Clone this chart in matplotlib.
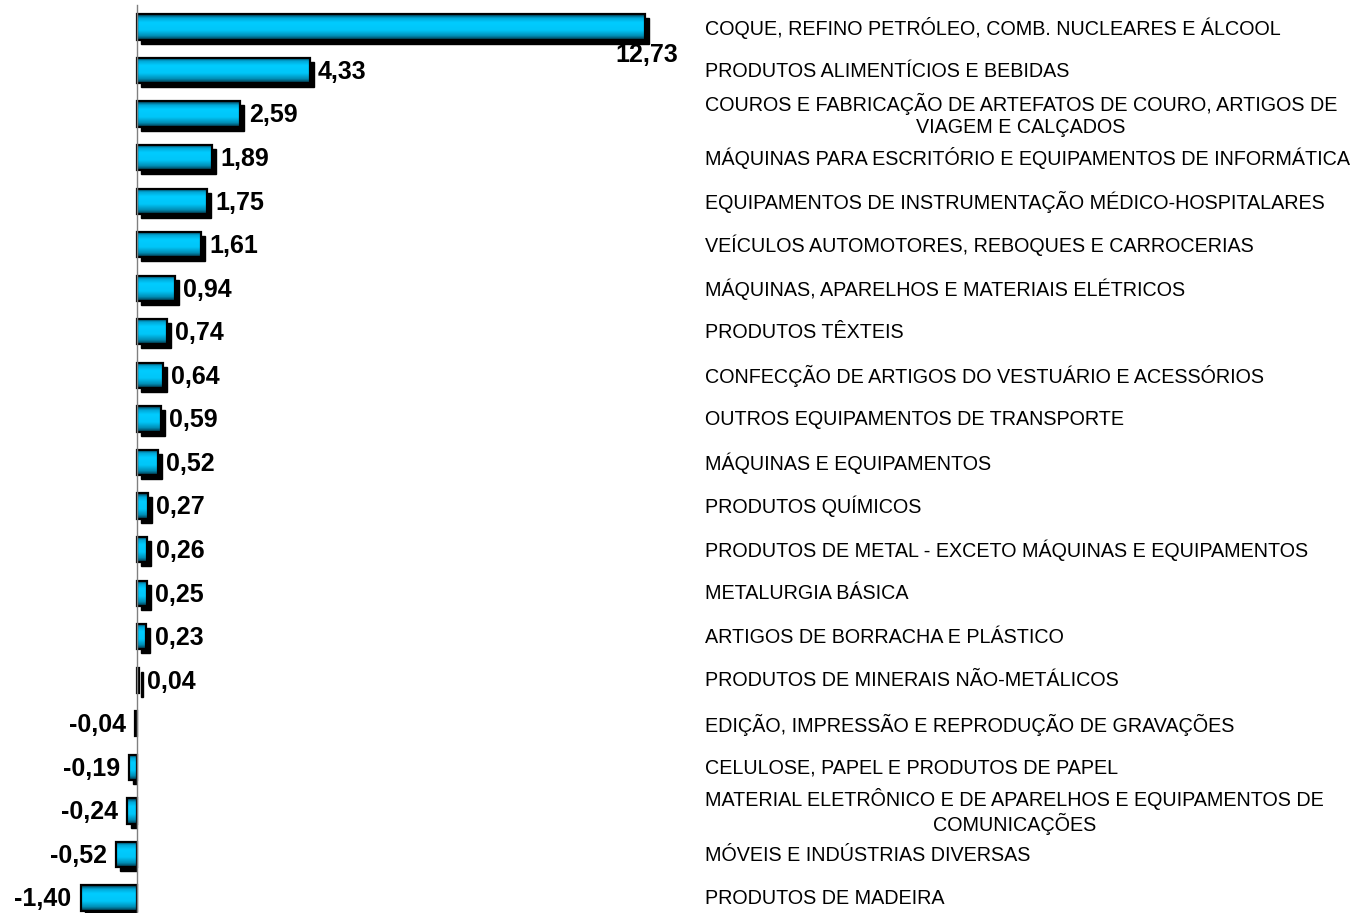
import numpy as np
import matplotlib
matplotlib.use("Agg")
import matplotlib.pyplot as plt
import matplotlib.transforms as mtransforms
from matplotlib.patches import Rectangle
from matplotlib.colors import LinearSegmentedColormap

categories = [
    "COQUE, REFINO PETRÓLEO, COMB. NUCLEARES E ÁLCOOL",
    "PRODUTOS ALIMENTÍCIOS E BEBIDAS",
    "COUROS E FABRICAÇÃO DE ARTEFATOS DE COURO, ARTIGOS DE\nVIAGEM E CALÇADOS",
    "MÁQUINAS PARA ESCRITÓRIO E EQUIPAMENTOS DE INFORMÁTICA",
    "EQUIPAMENTOS DE INSTRUMENTAÇÃO MÉDICO-HOSPITALARES",
    "VEÍCULOS AUTOMOTORES, REBOQUES E CARROCERIAS",
    "MÁQUINAS, APARELHOS E MATERIAIS ELÉTRICOS",
    "PRODUTOS TÊXTEIS",
    "CONFECÇÃO DE ARTIGOS DO VESTUÁRIO E ACESSÓRIOS",
    "OUTROS EQUIPAMENTOS DE TRANSPORTE",
    "MÁQUINAS E EQUIPAMENTOS",
    "PRODUTOS QUÍMICOS",
    "PRODUTOS DE METAL - EXCETO MÁQUINAS E EQUIPAMENTOS",
    "METALURGIA BÁSICA",
    "ARTIGOS DE BORRACHA E PLÁSTICO",
    "PRODUTOS DE MINERAIS NÃO-METÁLICOS",
    "EDIÇÃO, IMPRESSÃO E REPRODUÇÃO DE GRAVAÇÕES",
    "CELULOSE, PAPEL E PRODUTOS DE PAPEL",
    "MATERIAL ELETRÔNICO E DE APARELHOS E EQUIPAMENTOS DE\nCOMUNICAÇÕES",
    "MÓVEIS E INDÚSTRIAS DIVERSAS",
    "PRODUTOS DE MADEIRA",
]
values = [12.73, 4.33, 2.59, 1.89, 1.75, 1.61, 0.94, 0.74, 0.64, 0.59, 0.52,
          0.27, 0.26, 0.25, 0.23, 0.04, -0.04, -0.19, -0.24, -0.52, -1.40]

plt.rcParams['font.family'] = ['Liberation Sans', 'DejaVu Sans']

W, H, DPI = 1353, 913, 100
fig = plt.figure(figsize=(W / DPI, H / DPI), dpi=DPI)
ax = fig.add_axes([0, 0, 1, 1])

px_per_unit = 39.9
zero_px = 137
ax.set_xlim(-zero_px / px_per_unit, (W - zero_px) / px_per_unit)
row_px = 43.55
ax.set_ylim(20 + (H - 898) / row_px, -27 / row_px)
ax.axis('off')

y = np.arange(len(values))
bar_h = 0.58

cmap = LinearSegmentedColormap.from_list(
    'cyl', [(0.0, '#00384d'), (0.15, '#00a8d8'), (0.32, '#00ccff'),
            (0.62, '#00c6f8'), (0.84, '#0090b8'), (1.0, '#003344')])
grad = np.linspace(0, 1, 64).reshape(-1, 1)

# shadows (offset down-right), clipped at the axis for negative bars
shadow_tr = ax.transData + mtransforms.ScaledTranslation(4 / DPI, -4 / DPI,
                                                         fig.dpi_scale_trans)
shadows = ax.barh(y, values, height=bar_h, color='black', edgecolor='black',
                  linewidth=1.0, zorder=1, transform=shadow_tr)
x_lo, x_hi = ax.get_xlim()
y_lo, y_hi = ax.get_ylim()
neg_clip = Rectangle((x_lo, min(y_lo, y_hi)), 0 - x_lo, abs(y_hi - y_lo),
                     transform=ax.transData, visible=False)
ax.add_patch(neg_clip)
for s, v in zip(shadows, values):
    if v < 0:
        s.set_clip_path(neg_clip)

bars = ax.barh(y, values, height=bar_h, color='#00c8f8', edgecolor='none',
               zorder=2)
for b in bars:
    x0, y0 = b.get_x(), b.get_y()
    w, h = b.get_width(), b.get_height()
    im = ax.imshow(grad, cmap=cmap, aspect='auto', zorder=3,
                   extent=(min(x0, x0 + w), max(x0, x0 + w), y0 + h, y0),
                   interpolation='bilinear')
    im.set_clip_path(b)
ax.barh(y, values, height=bar_h, color='none', edgecolor='black', linewidth=1.6,
        zorder=4)
ax.set_xlim(x_lo, x_hi)
ax.set_ylim(y_lo, y_hi)

ax.axvline(0, ymin=0, ymax=0.995, color='#808080', linewidth=1.0, zorder=5)

vmax = max(values)
for yi, v in zip(y, values):
    txt = f"{v:.2f}".replace('.', ',')
    if v == vmax:
        ax.annotate(txt, (v, yi), xytext=(24, -20), textcoords='offset points',
                    ha='right', va='center', fontsize=18, fontweight='bold')
    elif v >= 0:
        ax.annotate(txt, (v, yi), xytext=(6, -1), textcoords='offset points',
                    ha='left', va='center', fontsize=18, fontweight='bold')
    else:
        ax.annotate(txt, (v, yi), xytext=(-7, -1), textcoords='offset points',
                    ha='right', va='center', fontsize=18, fontweight='bold')

label_x = (705 - zero_px) / px_per_unit
for yi, c in zip(y, categories):
    ax.annotate(c, (label_x, yi), xytext=(0, -0.5), textcoords='offset points',
                ha='left', va='center', multialignment='center',
                fontsize=14.2, linespacing=1.2)

fig.savefig('out.png', dpi=DPI)
